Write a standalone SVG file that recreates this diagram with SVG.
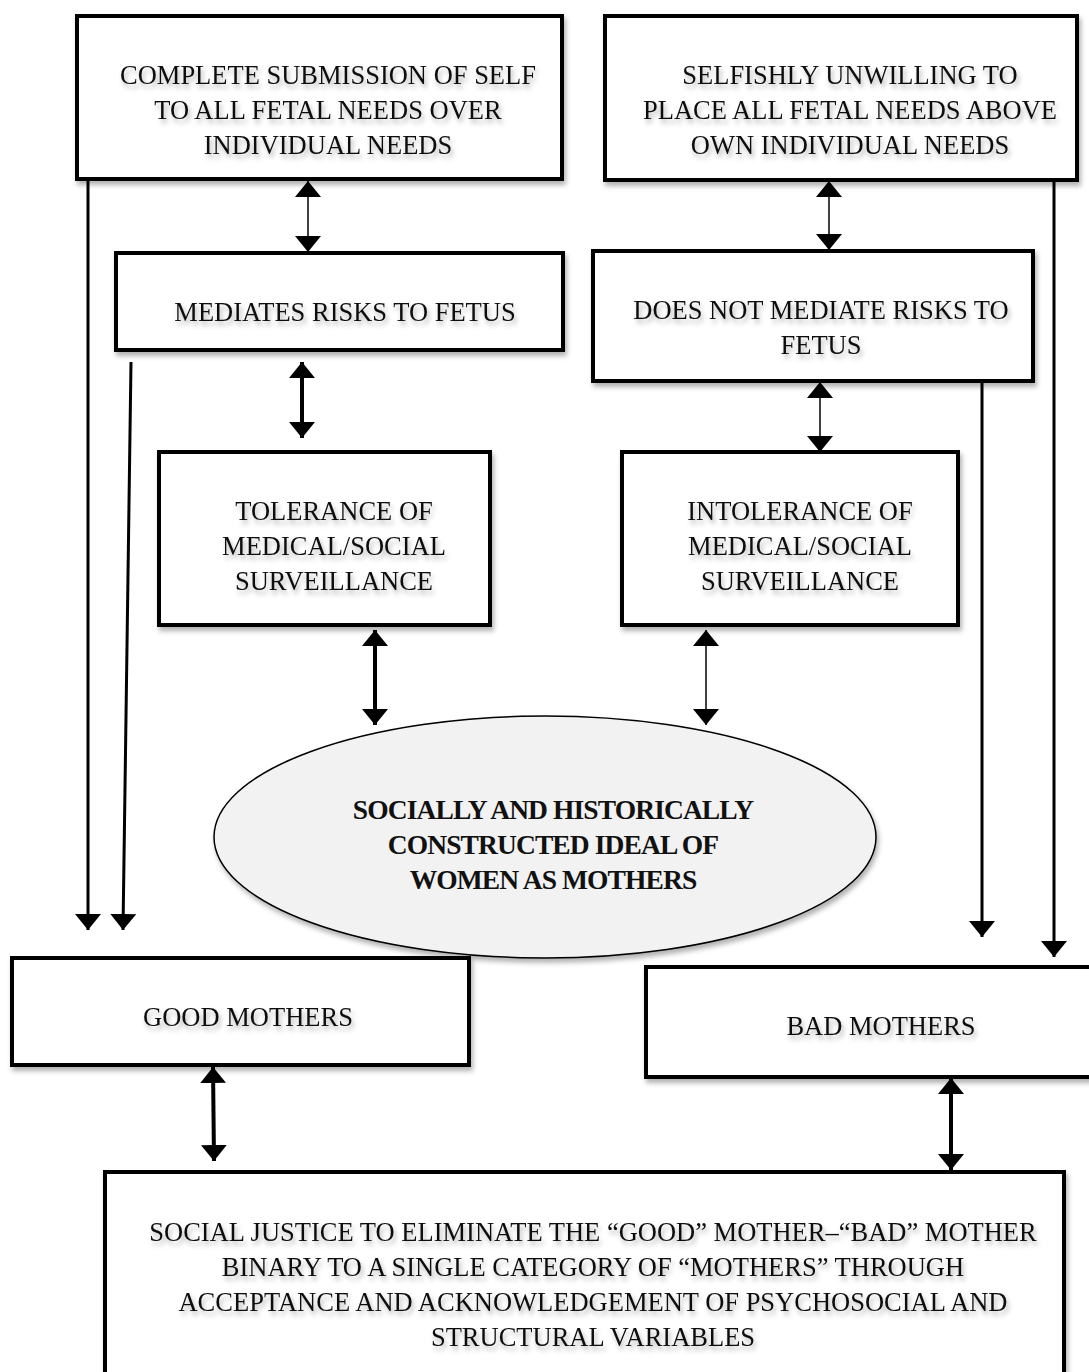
<svg xmlns="http://www.w3.org/2000/svg" width="1089" height="1372" viewBox="0 0 1089 1372">
<style>
.box{fill:#fff;stroke:#000;stroke-width:4;filter:url(#bsh)}
.t{font-family:"Liberation Serif","Times New Roman",serif;font-size:26.5px;fill:#111;text-anchor:middle;filter:url(#tsh)}
.tb{font-family:"Liberation Serif","Times New Roman",serif;font-size:27.5px;font-weight:bold;fill:#111;text-anchor:middle;letter-spacing:-0.9px}
.thin{stroke:#000;stroke-width:1.5;fill:none}
.thick{stroke:#000;stroke-width:4;fill:none}
.med{stroke:#000;stroke-width:3;fill:none}
</style>
<defs>
<filter id="bsh" x="-10%" y="-10%" width="120%" height="130%"><feDropShadow dx="2" dy="4" stdDeviation="2.5" flood-color="#000" flood-opacity="0.3"/></filter>
<filter id="tsh" x="-10%" y="-30%" width="120%" height="180%"><feDropShadow dx="2" dy="4" stdDeviation="2.5" flood-color="#000" flood-opacity="0.3"/></filter>
<marker id="ah" viewBox="0 0 16 26" refX="16" refY="13" markerWidth="16" markerHeight="26" markerUnits="userSpaceOnUse" orient="auto-start-reverse"><path d="M0,0 L16,13 L0,26 z" fill="#000"/></marker>
</defs>
<rect width="1089" height="1372" fill="#fff"/>

<g id="connectors">
<line class="med" x1="88" y1="179" x2="88" y2="930" marker-end="url(#ah)"/>
<line class="med" x1="131" y1="362" x2="123" y2="930" marker-end="url(#ah)"/>
<line class="thin" x1="308" y1="181" x2="308" y2="252" marker-start="url(#ah)" marker-end="url(#ah)"/>
<line class="thick" x1="302" y1="362" x2="302" y2="438" marker-start="url(#ah)" marker-end="url(#ah)"/>
<line class="thin" x1="829" y1="181" x2="829" y2="250" marker-start="url(#ah)" marker-end="url(#ah)"/>
<line class="thin" x1="820" y1="382" x2="820" y2="452" marker-start="url(#ah)" marker-end="url(#ah)"/>
<line class="thick" x1="375" y1="630" x2="375" y2="725" marker-start="url(#ah)" marker-end="url(#ah)"/>
<line class="thin" x1="706" y1="630" x2="706" y2="725" marker-start="url(#ah)" marker-end="url(#ah)"/>
<line class="med" x1="982" y1="381" x2="982" y2="937" marker-end="url(#ah)"/>
<line class="med" x1="1054" y1="180" x2="1054" y2="957" marker-end="url(#ah)"/>
<line class="thick" x1="213" y1="1067" x2="214" y2="1161" marker-start="url(#ah)" marker-end="url(#ah)"/>
<line class="thick" x1="951" y1="1078" x2="951" y2="1170" marker-start="url(#ah)" marker-end="url(#ah)"/>
</g>

<g id="n-complete">
<rect class="box" x="77" y="16" width="485" height="163"/>
<text class="t" x="328" y="84">COMPLETE SUBMISSION OF SELF</text>
<text class="t" x="328" y="119">TO ALL FETAL NEEDS OVER</text>
<text class="t" x="328" y="154">INDIVIDUAL NEEDS</text>
</g>
<g id="n-selfish">
<rect class="box" x="605" y="16" width="472" height="164"/>
<text class="t" x="850" y="84">SELFISHLY UNWILLING TO</text>
<text class="t" x="850" y="119">PLACE ALL FETAL NEEDS ABOVE</text>
<text class="t" x="850" y="154">OWN INDIVIDUAL NEEDS</text>
</g>
<g id="n-mediates">
<rect class="box" x="116" y="253" width="447" height="97"/>
<text class="t" x="345" y="321">MEDIATES RISKS TO FETUS</text>
</g>
<g id="n-notmediate">
<rect class="box" x="593" y="251" width="440" height="130"/>
<text class="t" x="821" y="319">DOES NOT MEDIATE RISKS TO</text>
<text class="t" x="821" y="354">FETUS</text>
</g>
<g id="n-tolerance">
<rect class="box" x="159" y="452" width="331" height="173"/>
<text class="t" x="334" y="520">TOLERANCE OF</text>
<text class="t" x="334" y="555">MEDICAL/SOCIAL</text>
<text class="t" x="334" y="590">SURVEILLANCE</text>
</g>
<g id="n-intolerance">
<rect class="box" x="622" y="452" width="336" height="173"/>
<text class="t" x="800" y="520">INTOLERANCE OF</text>
<text class="t" x="800" y="555">MEDICAL/SOCIAL</text>
<text class="t" x="800" y="590">SURVEILLANCE</text>
</g>
<g id="n-ideal">
<ellipse cx="545" cy="837" rx="331" ry="121" fill="#f2f2f2" stroke="#000" stroke-width="1.5" filter="url(#bsh)"/>
<text class="tb" x="553" y="819">SOCIALLY AND HISTORICALLY</text>
<text class="tb" x="553" y="854">CONSTRUCTED IDEAL OF</text>
<text class="tb" x="553" y="889">WOMEN AS MOTHERS</text>
</g>
<g id="n-good">
<rect class="box" x="12" y="958" width="457" height="107"/>
<text class="t" x="248" y="1026">GOOD MOTHERS</text>
</g>
<g id="n-bad">
<rect class="box" x="646" y="967" width="460" height="110"/>
<text class="t" x="881" y="1035">BAD MOTHERS</text>
</g>
<g id="n-justice">
<rect class="box" x="105" y="1172" width="959" height="230"/>
<text class="t" x="593" y="1241">SOCIAL JUSTICE TO ELIMINATE THE “GOOD” MOTHER–“BAD” MOTHER</text>
<text class="t" x="593" y="1276">BINARY TO A SINGLE CATEGORY OF “MOTHERS” THROUGH</text>
<text class="t" x="593" y="1311">ACCEPTANCE AND ACKNOWLEDGEMENT OF PSYCHOSOCIAL AND</text>
<text class="t" x="593" y="1346">STRUCTURAL VARIABLES</text>
</g>
</svg>
